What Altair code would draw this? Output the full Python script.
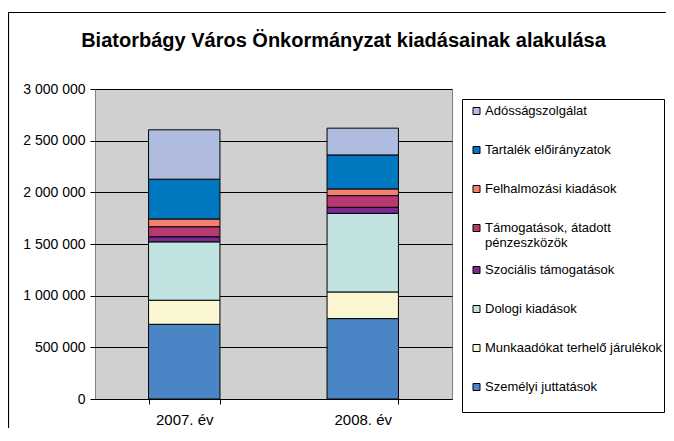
import altair as alt
import pandas as pd

# ---- data ----
years = ["2007. év", "2008. év"]
categories = [  # stacking order, bottom -> top
    "Személyi juttatások",
    "Munkaadókat terhelő járulékok",
    "Dologi kiadások",
    "Szociális támogatások",
    "Támogatások, átadott pénzeszközök",
    "Felhalmozási kiadások",
    "Tartalék előirányzatok",
    "Adósságszolgálat",
]
values_2007 = [723000, 233000, 565000, 49000, 97000, 75000, 385000, 478000]
values_2008 = [778000, 258000, 761000, 58000, 113000, 65000, 329000, 259000]
colors = ["#4A86C6", "#FAF6D2", "#C0E2E0", "#7A2A90", "#B83872", "#F4806F", "#0078C0", "#B0BCDF"]
y_ticks = [0, 500000, 1000000, 1500000, 2000000, 2500000, 3000000]
title_text = "Biatorbágy Város Önkormányzat kiadásainak alakulása"

rows = []
for i, c in enumerate(categories):
    rows.append({"ev": years[0], "tetel": c, "ertek": values_2007[i], "rend": i})
    rows.append({"ev": years[1], "tetel": c, "ertek": values_2008[i], "rend": i})
df = pd.DataFrame(rows)

FONT = "Liberation Sans"
multi = "Támogatások, átadott pénzeszközök"
label_expr = (
    f"datum.label == '{multi}' ? ['Támogatások, átadott', 'pénzeszközök'] : datum.label"
)

bars = alt.Chart(df).mark_bar(stroke="black", strokeWidth=1).encode(
    x=alt.X(
        "ev:N",
        sort=years,
        scale=alt.Scale(paddingInner=0.6, paddingOuter=0.3),
        axis=alt.Axis(
            title=None, labelAngle=0, tickBand="extent", tickSize=5,
            tickColor="black", domainColor="black", labelFontSize=15,
            labelPadding=8, labelFont=FONT, labelColor="black",
        ),
    ),
    y=alt.Y(
        "ertek:Q",
        stack="zero",
        scale=alt.Scale(domain=[0, 3000000], nice=False),
        axis=alt.Axis(
            title=None, values=y_ticks,
            labelExpr="replace(replace(format(datum.value, ','), ',', ' '), ',', ' ')",
            grid=True, gridColor="black", gridWidth=1, domain=False,
            tickSize=5, tickColor="black", labelPadding=5, labelFontSize=14,
            labelFont=FONT, labelColor="black",
        ),
    ),
    color=alt.Color(
        "tetel:N",
        scale=alt.Scale(domain=categories[::-1], range=colors[::-1]),
        legend=alt.Legend(
            title=None, orient="none", legendX=375, legendY=2.5,
            symbolType="square", symbolSize=49, symbolStrokeColor="black",
            symbolStrokeWidth=1, symbolOpacity=1, clipHeight=39, rowPadding=0,
            labelOffset=2, labelFont=FONT, labelFontSize=13, labelColor="black",
            labelLimit=300, labelExpr=label_expr, padding=0,
        ),
    ),
    order=alt.Order("rend:Q", sort="ascending"),
)

deco = alt.Data(values=[{"k": 1}])
frame = alt.Chart(deco).mark_rect(fillOpacity=0, stroke="black", strokeWidth=1.2).encode(
    x=alt.value(-86.5), x2=alt.value(700), y=alt.value(-76.5), y2=alt.value(400)
)
legend_box = alt.Chart(deco).mark_rect(fill="white", stroke="black", strokeWidth=1).encode(
    x=alt.value(367.5), x2=alt.value(569.5), y=alt.value(10.5), y2=alt.value(323.5)
)

chart = alt.layer(frame, legend_box, bars).properties(
    width=357,
    height=310,
    autosize="none",
    padding={"left": 87, "top": 81, "right": 214, "bottom": 29},
    title=alt.TitleParams(
        text=title_text, font=FONT, fontSize=20, fontWeight="bold", color="black",
        anchor="middle", dx=70, offset=-39,
    ),
    background="white",
).configure_view(fill="#D0D0D0", stroke="#808080", strokeWidth=1)

chart.save("out.html", embed_options={"renderer": "svg", "actions": False})
